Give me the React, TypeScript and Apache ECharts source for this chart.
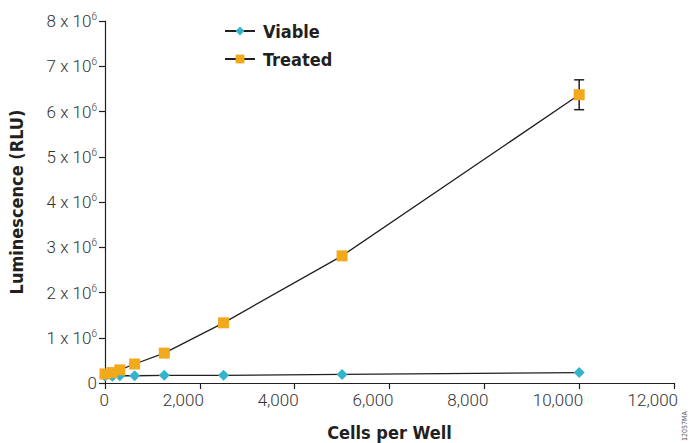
import React, { useEffect, useRef } from "react";
import * as echarts from "echarts";

const cellsPerWell = [0, 156, 313, 625, 1250, 2500, 5000, 10000];
const viableRLU = [0.15e6, 0.15e6, 0.16e6, 0.16e6, 0.17e6, 0.17e6, 0.19e6, 0.23e6];
const treatedRLU = [0.2e6, 0.23e6, 0.29e6, 0.42e6, 0.66e6, 1.33e6, 2.81e6, 6.37e6];
const treatedErr = [0.01e6, 0.01e6, 0.01e6, 0.02e6, 0.03e6, 0.04e6, 0.09e6, 0.33e6];
const seriesNames = ["Viable", "Treated"];
const xTitle = "Cells per Well";
const yTitle = "Luminescence (RLU)";
const figureCode = "12057MA";

const titleFont = "'Liberation Sans Narrow', 'DejaVu Sans Condensed', 'Roboto', sans-serif";
const tickFont = "Roboto, 'Liberation Sans', sans-serif";

export default function App() {
  const ref = useRef<HTMLDivElement>(null);
  useEffect(() => {
    document.body.style.margin = "0";
    const chart = echarts.init(ref.current!, null, { renderer: "svg" });
    const errData = cellsPerWell.map((x, i) => [x, treatedRLU[i] - treatedErr[i], treatedRLU[i] + treatedErr[i]]);
    chart.setOption({
      animation: false,
      backgroundColor: "#fff",
      grid: { left: 105, right: 15, top: 21, bottom: 60, containLabel: false, outerBoundsMode: "none" },
      legend: {
        orient: "vertical",
        left: 219,
        top: 17,
        itemGap: 10,
        itemWidth: 30,
        itemHeight: 11,
        data: seriesNames,
        textStyle: { fontFamily: titleFont, fontWeight: "bold", fontSize: 18, color: "#231f20", padding: [0, 0, 0, 3] },
      },
      xAxis: {
        type: "value",
        min: 0,
        max: 12000,
        interval: 2000,
        axisLine: { lineStyle: { color: "#231f20", width: 1.2 } },
        axisTick: { show: true, length: 6, lineStyle: { color: "#231f20", width: 1.2 } },
        splitLine: { show: false },
        axisLabel: {
          fontFamily: tickFont,
          fontWeight: 300,
          fontSize: 17,
          color: "#333",
          margin: 8,
          align: "right",
          padding: [0, -4, 0, 0],
          formatter: (v: number) => v.toLocaleString("en-US"),
        },
        name: xTitle,
        nameLocation: "middle",
        nameGap: 40,
        nameTextStyle: { fontFamily: titleFont, fontWeight: "bold", fontSize: 18, color: "#231f20" },
      },
      yAxis: {
        type: "value",
        min: 0,
        max: 8e6,
        interval: 1e6,
        axisLine: { show: true, lineStyle: { color: "#231f20", width: 1.2 } },
        axisTick: { show: true, length: 6, lineStyle: { color: "#231f20", width: 1.2 } },
        splitLine: { show: false },
        axisLabel: {
          margin: 8,
          formatter: (v: number) => (v === 0 ? "{a|0}" : `{a|${v / 1e6} x 10}{s|6}`),
          rich: {
            a: { fontFamily: tickFont, fontWeight: 300, fontSize: 17, color: "#333" },
            s: { fontFamily: tickFont, fontWeight: 300, fontSize: 10, color: "#333", padding: [0, 0, 9, 0] },
          },
        },
        name: yTitle,
        nameLocation: "middle",
        nameGap: 80,
        nameTextStyle: { fontFamily: titleFont, fontWeight: "bold", fontSize: 18, color: "#231f20" },
      },
      series: [
        {
          name: "TreatedErr",
          type: "custom",
          z: 1,
          data: errData,
          renderItem: (params: any, api: any) => {
            const x = api.value(0);
            const lo = api.coord([x, api.value(1)]);
            const hi = api.coord([x, api.value(2)]);
            const w = 5;
            const style = { stroke: "#231f20", lineWidth: 1.5 };
            return {
              type: "group",
              children: [
                { type: "line", shape: { x1: lo[0], y1: lo[1], x2: hi[0], y2: hi[1] }, style },
                { type: "line", shape: { x1: lo[0] - w, y1: lo[1], x2: lo[0] + w, y2: lo[1] }, style },
                { type: "line", shape: { x1: hi[0] - w, y1: hi[1], x2: hi[0] + w, y2: hi[1] }, style },
              ],
            };
          },
        },
        {
          name: seriesNames[0],
          type: "line",
          z: 3,
          data: cellsPerWell.map((x, i) => [x, viableRLU[i]]),
          symbol: "diamond",
          symbolSize: 11,
          lineStyle: { color: "#231f20", width: 1.3 },
          itemStyle: { color: "#34b4cc", borderWidth: 0 },
        },
        {
          name: seriesNames[1],
          type: "line",
          z: 4,
          data: cellsPerWell.map((x, i) => [x, treatedRLU[i]]),
          symbol: "rect",
          symbolSize: 11,
          lineStyle: { color: "#231f20", width: 1.3 },
          itemStyle: { color: "#f2a91c", borderWidth: 0 },
        },
      ],
      graphic: [
        {
          type: "text",
          x: 681,
          y: 441,
          rotation: Math.PI / 2,
          style: { text: figureCode, fontFamily: titleFont, fontSize: 7, fill: "#555" },
        },
      ],
    });
    return () => chart.dispose();
  }, []);
  return <div ref={ref} style={{ width: 689, height: 443 }} />;
}
